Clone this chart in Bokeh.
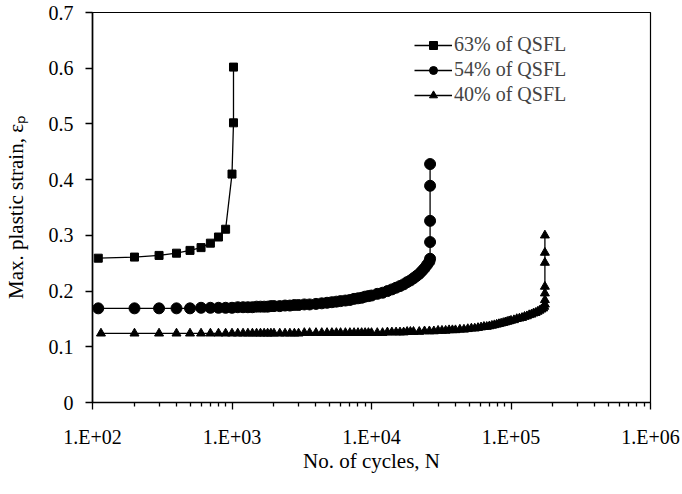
from bokeh.plotting import figure
from bokeh.models import FixedTicker, Legend, LegendItem
from bokeh.embed import file_html
from bokeh.resources import INLINE

# ---- data ----
N63 = [110, 200, 300, 400, 500, 600, 700, 800, 900, 1000, 1025, 1025]
S63 = [0.259, 0.261, 0.264, 0.268, 0.273, 0.278, 0.286, 0.297, 0.311, 0.410, 0.502, 0.602]

N54 = [110, 200, 300, 400, 500, 600, 700, 800, 900, 1000,
       1100, 1200, 1300, 1400, 1500, 1600, 1700, 1800, 1900, 2000,
       2200, 2400, 2600, 2800, 3000, 3300, 3600, 4000, 4400, 4800,
       5200, 5600, 6000, 6500, 7000, 7500, 8000, 8500, 9000, 9500,
       10000, 11000, 12000, 13000, 14000, 15000, 16000, 17000, 18000, 19000,
       20000, 21000, 22000, 23000, 24000, 25000, 26000, 26300, 26300, 26300, 26300, 26300]
S54 = [0.169, 0.169, 0.169, 0.169, 0.169, 0.170, 0.170, 0.170, 0.170, 0.170,
       0.171, 0.171, 0.171, 0.171, 0.172, 0.172, 0.172, 0.172, 0.173, 0.173,
       0.173, 0.174, 0.174, 0.175, 0.175, 0.176, 0.176, 0.177, 0.178, 0.179,
       0.180, 0.181, 0.182, 0.183, 0.184, 0.186, 0.187, 0.188, 0.190, 0.191,
       0.192, 0.195, 0.197, 0.200, 0.203, 0.206, 0.209, 0.212, 0.216, 0.219,
       0.223, 0.227, 0.231, 0.236, 0.241, 0.247, 0.253, 0.258, 0.288, 0.326, 0.389, 0.428]

N40 = [115, 200, 300, 400, 500, 600, 700, 800, 900, 1000,
       1100, 1200, 1300, 1400, 1500, 1600, 1700, 1800, 1900, 2000,
       2200, 2400, 2600, 2800, 3000, 3300, 3600, 4000, 4400, 4800,
       5200, 5600, 6000, 6500, 7000, 7500, 8000, 8500, 9000, 9500,
       10000, 11000, 12000, 13000, 14000, 15000, 16000, 17000, 18000, 19000,
       20000, 22000, 24000, 26000, 28000, 30000, 32000, 34000, 36000, 38000,
       40000, 43000, 46000, 49000, 52000, 55000, 58000, 61000, 64000, 67000,
       70000, 73000, 76000, 79000, 82000, 85000, 88000, 91000, 94000, 97000,
       100000, 105000, 110000, 115000, 120000, 125000, 130000, 135000, 140000, 145000,
       150000, 155000, 160000, 165000, 170000, 173000, 175000, 175000, 175000, 175000, 175000, 175000, 175000]
S40 = [0.124, 0.124, 0.124, 0.124, 0.124, 0.124, 0.124, 0.124, 0.124, 0.124,
       0.124, 0.124, 0.124, 0.124, 0.124, 0.124, 0.124, 0.124, 0.124, 0.124,
       0.124, 0.124, 0.124, 0.124, 0.124, 0.125, 0.125, 0.125, 0.125, 0.125,
       0.125, 0.125, 0.125, 0.125, 0.125, 0.125, 0.125, 0.125, 0.125, 0.125,
       0.125, 0.125, 0.125, 0.126, 0.126, 0.126, 0.126, 0.126, 0.127, 0.127,
       0.127, 0.127, 0.128, 0.128, 0.128, 0.129, 0.129, 0.129, 0.130, 0.130,
       0.130, 0.131, 0.131, 0.132, 0.133, 0.133, 0.134, 0.135, 0.136, 0.136,
       0.137, 0.138, 0.139, 0.140, 0.141, 0.142, 0.143, 0.144, 0.145, 0.146,
       0.147, 0.148, 0.150, 0.151, 0.152, 0.154, 0.155, 0.157, 0.158, 0.160,
       0.161, 0.163, 0.165, 0.167, 0.169, 0.172, 0.176, 0.184, 0.196, 0.208, 0.251, 0.269, 0.300]

LABELS = ["63% of QSFL", "54% of QSFL", "40% of QSFL"]
X_TICKS = [100, 1000, 10000, 100000, 1000000]
X_TICK_LABELS = ["1.E+02", "1.E+03", "1.E+04", "1.E+05", "1.E+06"]
Y_TICKS = [0, 0.1, 0.2, 0.3, 0.4, 0.5, 0.6, 0.7]
Y_TICK_LABELS = ["0", "0.1", "0.2", "0.3", "0.4", "0.5", "0.6", "0.7"]

FONT = "Liberation Serif"

p = figure(width=680, height=490, x_axis_type="log", x_range=(100, 1e6), y_range=(0, 0.7),
           output_backend="svg", toolbar_location=None,
           min_border_left=87, min_border_right=30, min_border_top=12, min_border_bottom=88)
p.xgrid.visible = False
p.ygrid.visible = False
p.outline_line_color = "black"
p.outline_line_width = 1.2
p.background_fill_color = "white"
p.border_fill_color = "white"

minor = [m * d for d in [100, 1000, 10000, 100000] for m in range(2, 10)]
p.xaxis.ticker = FixedTicker(ticks=X_TICKS, minor_ticks=minor)
p.xaxis.major_label_overrides = {float(t): l for t, l in zip(X_TICKS, X_TICK_LABELS)}
p.yaxis.ticker = FixedTicker(ticks=Y_TICKS, minor_ticks=[])
p.yaxis.major_label_overrides = {float(t): l for t, l in zip(Y_TICKS, Y_TICK_LABELS)}

for ax in (p.xaxis[0], p.yaxis[0]):
    ax.axis_line_color = "black"
    ax.axis_line_width = 1.6
    ax.major_tick_line_color = "black"
    ax.major_tick_line_width = 1.3
    ax.major_tick_in = 0
    ax.major_tick_out = 7
    ax.minor_tick_line_color = "black"
    ax.minor_tick_line_width = 1.3
    ax.minor_tick_in = 0
    ax.minor_tick_out = 4
    ax.major_label_text_font = FONT
    ax.major_label_text_font_size = "20px"
    ax.major_label_text_color = "black"
    ax.axis_label_text_font = FONT
    ax.axis_label_text_font_size = "21px"
    ax.axis_label_text_font_style = "normal"
    ax.axis_label_text_color = "black"

p.xaxis.axis_label = "No. of cycles, N"
p.yaxis.axis_label = "Max. plastic strain, εₚ"
p.xaxis.major_label_standoff = 16
p.yaxis.major_label_standoff = 12
p.xaxis.axis_label_standoff = -2
p.yaxis.axis_label_standoff = 18

items = []
for (N, S, marker, size), lab in zip(
        [(N63, S63, "square", 8), (N54, S54, "circle", 11), (N40, S40, "triangle", 9)], LABELS):
    l = p.line(N, S, line_color="black", line_width=1.3)
    s = p.scatter(N, S, marker=marker, size=size, fill_color="black", line_color="black")
    items.append(LegendItem(label=lab, renderers=[l, s]))

legend = Legend(items=items, location=(322, 296), border_line_color=None,
                background_fill_alpha=0, padding=0, margin=0, spacing=2,
                glyph_width=38, glyph_height=20, label_height=20, label_standoff=2,
                label_text_font=FONT, label_text_font_size="20px")
p.add_layout(legend)

open("out.html", "w").write(file_html(p, INLINE))
